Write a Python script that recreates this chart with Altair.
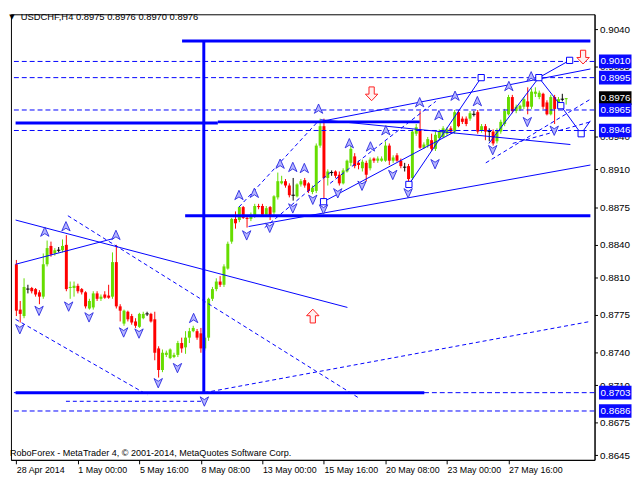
import json
import pandas as pd
import altair as alt

# ---------------- candles (H4 bars, index 0..143) ----------------
opens = [0.8822, 0.8780, 0.8774, 0.8799, 0.8800, 0.8799, 0.8796, 0.8792, 0.8822, 0.8839,
         0.8832, 0.8835, 0.8835, 0.8840, 0.8800, 0.8800, 0.8802, 0.8799, 0.8796, 0.8781,
         0.8782, 0.8795, 0.8790, 0.8794, 0.8793, 0.8792, 0.8824, 0.8783, 0.8767, 0.8778,
         0.8774, 0.8769, 0.8764, 0.8772, 0.8776, 0.8776, 0.8771, 0.8744, 0.8724, 0.8738,
         0.8735, 0.8736, 0.8738, 0.8749, 0.8745, 0.8754, 0.8760, 0.8760, 0.8758, 0.8744,
         0.8754, 0.8790, 0.8799, 0.8806, 0.8803, 0.8818, 0.8843, 0.8864, 0.8863, 0.8875,
         0.8865, 0.8864, 0.8867, 0.8876, 0.8876, 0.8868, 0.8875, 0.8870, 0.8884, 0.8897,
         0.8899, 0.8895, 0.8886, 0.8885, 0.8896, 0.8900, 0.8897, 0.8889, 0.8890, 0.8932,
         0.8950, 0.8902, 0.8907, 0.8908, 0.8905, 0.8897, 0.8908, 0.8916, 0.8922, 0.8916,
         0.8911, 0.8916, 0.8911, 0.8920, 0.8918, 0.8918, 0.8918, 0.8932, 0.8918, 0.8923,
         0.8918, 0.8912, 0.8913, 0.8902, 0.8943, 0.8947, 0.8930, 0.8932, 0.8937, 0.8929,
         0.8939, 0.8940, 0.8943, 0.8948, 0.8945, 0.8963, 0.8957, 0.8957, 0.8957, 0.8961,
         0.8963, 0.8946, 0.8950, 0.8945, 0.8945, 0.8936, 0.8945, 0.8952, 0.8961, 0.8977,
         0.8964, 0.8966, 0.8968, 0.8973, 0.8968, 0.8980, 0.8977, 0.8980, 0.8972, 0.8961,
         0.8977, 0.8968, 0.8975, 0.8975]
highs = [0.8826, 0.8788, 0.8809, 0.8803, 0.8801, 0.8800, 0.8798, 0.8832, 0.8844, 0.8843,
         0.8837, 0.8838, 0.8845, 0.8849, 0.8806, 0.8806, 0.8804, 0.8800, 0.8797, 0.8790,
         0.8797, 0.8797, 0.8794, 0.8797, 0.8803, 0.8833, 0.8840, 0.8785, 0.8780, 0.8779,
         0.8776, 0.8772, 0.8777, 0.8778, 0.8778, 0.8777, 0.8778, 0.8746, 0.8743, 0.8742,
         0.8744, 0.8740, 0.8751, 0.8754, 0.8760, 0.8763, 0.8765, 0.8762, 0.8763, 0.8756,
         0.8791, 0.8801, 0.8809, 0.8811, 0.8822, 0.8843, 0.8865, 0.8871, 0.8876, 0.8876,
         0.8867, 0.8870, 0.8878, 0.8878, 0.8878, 0.8876, 0.8876, 0.8886, 0.8907, 0.8904,
         0.8901, 0.8897, 0.8902, 0.8897, 0.8901, 0.8902, 0.8898, 0.8895, 0.8934, 0.8957,
         0.8957, 0.8910, 0.8909, 0.8909, 0.8908, 0.8911, 0.8919, 0.8934, 0.8925, 0.8918,
         0.8919, 0.8918, 0.8921, 0.8921, 0.8922, 0.8922, 0.8936, 0.8934, 0.8923, 0.8925,
         0.8920, 0.8916, 0.8915, 0.8947, 0.8952, 0.8964, 0.8935, 0.8940, 0.8943, 0.8945,
         0.8947, 0.8950, 0.8949, 0.8950, 0.8965, 0.8965, 0.8959, 0.8959, 0.8964, 0.8964,
         0.8965, 0.8952, 0.8952, 0.8948, 0.8947, 0.8948, 0.8956, 0.8966, 0.8979, 0.8979,
         0.8970, 0.8970, 0.8977, 0.8986, 0.8985, 0.8986, 0.8983, 0.8981, 0.8974, 0.8979,
         0.8979, 0.8977, 0.8980, 0.8976]
lows = [0.8774, 0.8768, 0.8772, 0.8795, 0.8795, 0.8792, 0.8785, 0.8790, 0.8820, 0.8829,
        0.8830, 0.8833, 0.8833, 0.8797, 0.8790, 0.8792, 0.8795, 0.8794, 0.8781, 0.8780,
        0.8780, 0.8788, 0.8788, 0.8790, 0.8790, 0.8790, 0.8781, 0.8769, 0.8765, 0.8769,
        0.8766, 0.8763, 0.8763, 0.8771, 0.8774, 0.8768, 0.8733, 0.8717, 0.8722, 0.8736,
        0.8734, 0.8735, 0.8736, 0.8740, 0.8739, 0.8749, 0.8759, 0.8752, 0.8740, 0.8742,
        0.8751, 0.8788, 0.8797, 0.8801, 0.8801, 0.8817, 0.8841, 0.8855, 0.8861, 0.8864,
        0.8856, 0.8862, 0.8865, 0.8873, 0.8866, 0.8866, 0.8863, 0.8868, 0.8882, 0.8896,
        0.8893, 0.8884, 0.8881, 0.8884, 0.8894, 0.8893, 0.8888, 0.8887, 0.8888, 0.8930,
        0.8881, 0.8895, 0.8904, 0.8902, 0.8895, 0.8896, 0.8907, 0.8913, 0.8911, 0.8910,
        0.8908, 0.8899, 0.8909, 0.8916, 0.8916, 0.8917, 0.8917, 0.8914, 0.8916, 0.8917,
        0.8911, 0.8908, 0.8895, 0.8900, 0.8941, 0.8929, 0.8929, 0.8930, 0.8927, 0.8927,
        0.8937, 0.8939, 0.8941, 0.8943, 0.8943, 0.8949, 0.8952, 0.8950, 0.8955, 0.8959,
        0.8943, 0.8944, 0.8937, 0.8936, 0.8932, 0.8934, 0.8943, 0.8950, 0.8960, 0.8962,
        0.8962, 0.8964, 0.8966, 0.8961, 0.8966, 0.8977, 0.8975, 0.8966, 0.8960, 0.8960,
        0.8952, 0.8966, 0.8973, 0.8970]
closes = [0.8779, 0.8776, 0.8801, 0.8799, 0.8797, 0.8794, 0.8792, 0.8822, 0.8837, 0.8831,
          0.8835, 0.8835, 0.8839, 0.8799, 0.8801, 0.8802, 0.8797, 0.8796, 0.8783, 0.8788,
          0.8795, 0.8790, 0.8792, 0.8791, 0.8791, 0.8824, 0.8783, 0.8779, 0.8779, 0.8771,
          0.8768, 0.8765, 0.8776, 0.8776, 0.8776, 0.8769, 0.8740, 0.8724, 0.8740, 0.8740,
          0.8743, 0.8738, 0.8749, 0.8744, 0.8754, 0.8760, 0.8763, 0.8754, 0.8744, 0.8754,
          0.8790, 0.8799, 0.8806, 0.8803, 0.8820, 0.8841, 0.8864, 0.8860, 0.8875, 0.8865,
          0.8864, 0.8868, 0.8876, 0.8875, 0.8868, 0.8874, 0.8867, 0.8885, 0.8899, 0.8899,
          0.8895, 0.8886, 0.8886, 0.8896, 0.8899, 0.8895, 0.8890, 0.8893, 0.8932, 0.8950,
          0.8902, 0.8908, 0.8907, 0.8904, 0.8897, 0.8909, 0.8918, 0.8929, 0.8913, 0.8914,
          0.8917, 0.8905, 0.8919, 0.8918, 0.8920, 0.8920, 0.8932, 0.8918, 0.8921, 0.8918,
          0.8913, 0.8912, 0.8901, 0.8945, 0.8949, 0.8930, 0.8933, 0.8938, 0.8929, 0.8942,
          0.8945, 0.8948, 0.8947, 0.8945, 0.8963, 0.8950, 0.8954, 0.8952, 0.8962, 0.8961,
          0.8945, 0.8950, 0.8945, 0.8945, 0.8934, 0.8946, 0.8954, 0.8964, 0.8977, 0.8964,
          0.8968, 0.8969, 0.8975, 0.8968, 0.8982, 0.8982, 0.8981, 0.8968, 0.8961, 0.8977,
          0.8966, 0.8975, 0.8975, 0.8976]

# ---------------- axes ----------------
x_tick_idx = [0, 16, 32, 48, 64, 80, 96, 112, 128]
x_tick_labels = ["28 Apr 2014", "1 May 00:00", "5 May 16:00", "8 May 08:00", "13 May 00:00",
                 "15 May 16:00", "20 May 08:00", "23 May 00:00", "27 May 16:00"]
y_tick_values = [0.9040, 0.9005, 0.8940, 0.8910, 0.8875, 0.8840, 0.8810,
                 0.8775, 0.8740, 0.8710, 0.8675, 0.8645]

# ---------------- drawn objects ----------------
level_prices = [0.9010, 0.8995, 0.8965, 0.8946, 0.8703, 0.8686]

thick_x1 = [43.1, 48.75, 43.9, -0.2, -0.2, 52.4]
thick_y1 = [0.9029, 0.9029, 0.8867, 0.8703, 0.8953, 0.8954]
thick_x2 = [149.3, 48.75, 149.3, 106.1, 52.4, 104.9]
thick_y2 = [0.9029, 0.8703, 0.8867, 0.8703, 0.8953, 0.8954]

thin_x1 = [-0.2, -0.2, 60.4, 78.6, 79.1, 79.9, 102.1, 122.9, 135.9, 141.6, 146.9, 135.9]
thin_y1 = [0.8863, 0.8822, 0.8857, 0.8954, 0.8956, 0.8880, 0.8896, 0.8934, 0.8995, 0.8969, 0.8943, 0.8995]
thin_x2 = [86.1, 25.4, 149.3, 149.3, 144.1, 114.1, 120.9, 135.9, 141.6, 146.9, 149.3, 143.9]
thin_y2 = [0.8782, 0.8846, 0.8914, 0.9003, 0.8933, 0.8945, 0.8995, 0.8995, 0.8969, 0.8943, 0.8955, 0.9011]

dot_x1 = [13.4, -0.2, 48.9, 12.9, 57.9, 64.6, 81.6, 122.1, 129.1]
dot_y1 = [0.8867, 0.8771, 0.8703, 0.8695, 0.8875, 0.8856, 0.8897, 0.8916, 0.8934]
dot_x2 = [89.1, 34.1, 149.3, 48.4, 78.6, 81.6, 109.1, 149.3, 149.3]
dot_y2 = [0.8698, 0.8701, 0.8769, 0.8695, 0.8955, 0.8907, 0.8973, 0.8975, 0.8954]

up_idx = [7.4, 12.9, 25.9, 46.1, 57.9, 61.9, 68.6, 71.9, 74.9, 78.6, 86.6, 92.1, 96.1,
          104.9, 109.9, 114.1, 119.9, 128.1, 133.9]
up_price = [0.8852, 0.8857, 0.8849, 0.8772, 0.8886, 0.8888, 0.8915, 0.8912, 0.8911, 0.8966,
            0.8934, 0.8931, 0.8946, 0.8972, 0.8960, 0.8978, 0.8973, 0.8987, 0.8996]
dn_idx = [0.9, 5.9, 13.6, 18.9, 27.9, 31.9, 36.9, 41.9, 48.9, 59.9, 65.9, 71.9, 77.1, 79.9,
          83.6, 89.9, 97.9, 101.9, 108.9, 123.9, 132.9, 139.9]
dn_price = [0.8762, 0.8779, 0.8783, 0.8773, 0.8759, 0.8758, 0.8712, 0.8726, 0.8695, 0.8849,
            0.8856, 0.8874, 0.8882, 0.8873, 0.8888, 0.8895, 0.8905, 0.8888, 0.8915, 0.8928,
            0.8954, 0.8946]

sq_idx = [79.9, 102.1, 120.9, 135.9, 141.6, 143.9, 146.9]
sq_price = [0.8880, 0.8896, 0.8995, 0.8995, 0.8969, 0.9011, 0.8943]

red_up_idx = [77.1]
red_up_price = [0.8774]
red_dn_idx = [92.4, 147.4]
red_dn_price = [0.8980, 0.9014]

box_prices = [0.9010, 0.8995, 0.8976, 0.8965, 0.8946, 0.8703, 0.8686]
box_colors = ["#0a0aff", "#0a0aff", "#000000", "#0a0aff", "#0a0aff", "#0a0aff", "#0a0aff"]

title_text = "USDCHF,H4  0.8975 0.8976 0.8970 0.8976"
copyright_text = "RoboForex - MetaTrader 4, \u00a9 2001-2014, MetaQuotes Software Corp."

# ---------------- build ----------------
FONT = "Liberation Sans"
GREEN = "#66dd00"
RED = "#ff0000"
BLUE = "#0000ff"
W, H = 592, 452

n = len(opens)
candles = pd.DataFrame({"i": list(range(n)), "open": opens, "high": highs,
                        "low": lows, "close": closes})
candles["dir"] = ["up" if c > o else ("down" if c < o else "doji") for o, c in zip(opens, closes)]
candles["xl"] = candles["i"] - 0.45
candles["xr"] = candles["i"] + 0.45

XS = alt.Scale(domain=[-0.125, 149.1], nice=False, zero=False)
YS = alt.Scale(domain=[0.86407, 0.90537], nice=False, zero=False)
col = alt.Color("dir:N", scale=alt.Scale(domain=["up", "down", "doji"],
                                         range=[GREEN, RED, "black"]), legend=None)

label_expr = f"{json.dumps(x_tick_labels)}[indexof({json.dumps(x_tick_idx)}, datum.value)]"
x_axis = alt.Axis(values=x_tick_idx, labelExpr=label_expr, labelAlign="left", labelBaseline="top",
                  labelPadding=2, tickSize=4, grid=False, title=None, labelFontSize=9,
                  labelFont=FONT, labelColor="black", domainColor="black", tickColor="black",
                  labelOverlap=False, labelBound=False, labelFlush=False)
y_axis = alt.Axis(orient="right", values=y_tick_values, format=".4f", tickSize=3, labelPadding=2,
                  grid=False, title=None, labelFontSize=10, labelFont=FONT, labelColor="black",
                  domainColor="black", tickColor="black", labelOverlap=False)


def X(field):
    return alt.X(field, scale=XS, axis=x_axis, title=None)


def Y(field):
    return alt.Y(field, scale=YS, axis=y_axis, title=None)


base = alt.Chart(candles)
wicks = base.mark_rule(strokeWidth=1).encode(x=X("i:Q"), y=Y("low:Q"), y2="high:Q", color=col)
bodies = base.transform_filter("datum.dir != 'doji'").mark_bar(size=3).encode(
    x=X("i:Q"), y=Y("open:Q"), y2="close:Q", color=col)
dojis = base.transform_filter("datum.dir == 'doji'").mark_rule(color="black", strokeWidth=1).encode(
    x=X("xl:Q"), x2="xr:Q", y=Y("open:Q"))

levels = alt.Chart(pd.DataFrame({"p": level_prices})).mark_rule(
    color=BLUE, strokeWidth=1, strokeDash=[5, 3]).encode(y=Y("p:Q"))


def segs(x1, y1, x2, y2, **mk):
    df = pd.DataFrame({"x1": x1, "y1": y1, "x2": x2, "y2": y2})
    return alt.Chart(df).mark_rule(clip=True, **mk).encode(
        x=X("x1:Q"), x2="x2:Q", y=Y("y1:Q"), y2="y2:Q")


thick = segs(thick_x1, thick_y1, thick_x2, thick_y2, color=BLUE, strokeWidth=3)
thin = segs(thin_x1, thin_y1, thin_x2, thin_y2, color=BLUE, strokeWidth=1)
dotted = segs(dot_x1, dot_y1, dot_x2, dot_y2, color=BLUE, strokeWidth=1, strokeDash=[4, 3])

UP_CHEV = "M0,-1 L0.85,0.9 L0,0.35 L-0.85,0.9 Z"
DN_CHEV = "M0,1 L0.85,-0.9 L0,-0.35 L-0.85,-0.9 Z"
UP_BLOCK = "M0,-1 L0.9,-0.05 L0.38,-0.05 L0.38,1 L-0.38,1 L-0.38,-0.05 L-0.9,-0.05 Z"
DN_BLOCK = "M0,1 L0.9,0.05 L0.38,0.05 L0.38,-1 L-0.38,-1 L-0.38,0.05 L-0.9,0.05 Z"
BOX = "M-1,-0.42 L1,-0.42 L1,0.42 L-1,0.42 Z"


def pts(idx, price, **mk):
    df = pd.DataFrame({"i": idx, "p": price})
    return alt.Chart(df).mark_point(opacity=1, **mk).encode(x=X("i:Q"), y=Y("p:Q"))


ups = pts(up_idx, up_price, shape=UP_CHEV, size=100, filled=True, fill="#b4b4ff",
          stroke="#2a2ae0", strokeWidth=0.9)
dns = pts(dn_idx, dn_price, shape=DN_CHEV, size=100, filled=True, fill="#b4b4ff",
          stroke="#2a2ae0", strokeWidth=0.9)
red_ups = pts(red_up_idx, red_up_price, shape=UP_BLOCK, size=196, filled=True, fill="#fff0f0",
              stroke="#ff2020", strokeWidth=1)
red_dns = pts(red_dn_idx, red_dn_price, shape=DN_BLOCK, size=196, filled=True, fill="#fff0f0",
              stroke="#ff2020", strokeWidth=1)
squares = pts(sq_idx, sq_price, shape="square", size=40, filled=True, fill="white",
              stroke=BLUE, strokeWidth=1)

boxdf = pd.DataFrame({"p": box_prices, "bg": box_colors,
                      "label": [f"{v:.4f}" for v in box_prices]})
boxes = alt.Chart(boxdf).mark_point(shape=BOX, size=1089, filled=True, opacity=1,
                                    strokeWidth=0).encode(
    x=alt.value(W + 21), y=Y("p:Q"), color=alt.Color("bg:N", scale=None))
box_text = alt.Chart(boxdf).mark_text(align="left", baseline="middle", font=FONT, fontSize=10,
                                      color="white").encode(
    x=alt.value(W + 6), y=Y("p:Q"), text="label:N")

tri = alt.Chart(alt.Data(values=[{"t": "\u25bc"}])).mark_text(
    align="center", baseline="middle", fontSize=7, font="DejaVu Sans", color="black").encode(
    x=alt.value(1), y=alt.value(3), text="t:N")
title = alt.Chart(alt.Data(values=[{"t": title_text}])).mark_text(
    align="left", baseline="middle", fontSize=9.5, font=FONT, color="black").encode(
    x=alt.value(10), y=alt.value(3), text="t:N")
copyright_ = alt.Chart(alt.Data(values=[{"t": copyright_text}])).mark_text(
    align="left", baseline="middle", fontSize=9.2, font=FONT, color="black").encode(
    x=alt.value(-1), y=alt.value(H - 7), text="t:N")

chart = alt.layer(
    wicks, bodies, dojis, levels, thick, thin, dotted, ups, dns, red_ups, red_dns, squares,
    boxes, box_text, tri, title, copyright_
).properties(
    width=W, height=H, padding={"left": 1, "top": 1, "right": 0, "bottom": 0},
    background="white"
).configure_view(stroke="black", strokeWidth=1)

chart.save("out.html", embed_options={"renderer": "svg", "actions": False})
